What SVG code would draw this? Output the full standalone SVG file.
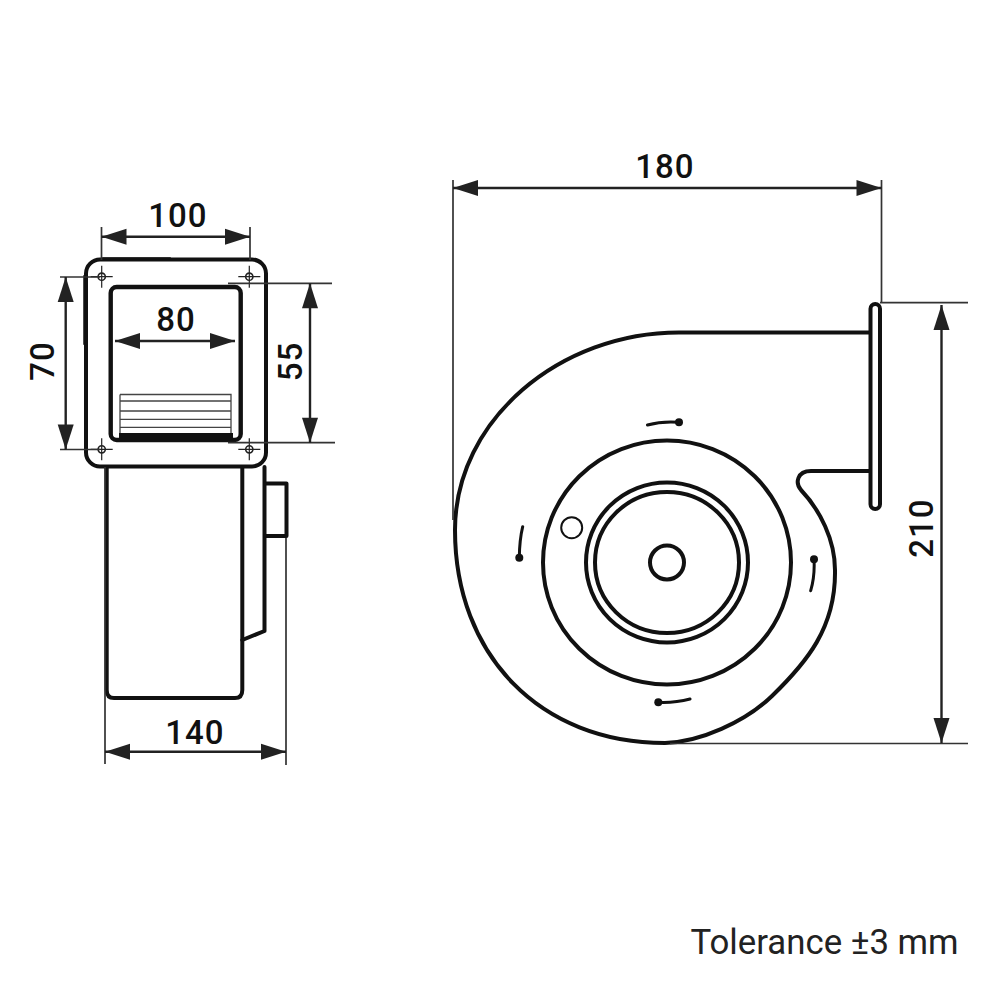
<svg xmlns="http://www.w3.org/2000/svg" width="1000" height="1000" viewBox="0 0 1000 1000">
<style>
.o{fill:none;stroke:#111;stroke-width:4;stroke-linecap:round;stroke-linejoin:round}
.g{fill:none;stroke:#444;stroke-width:1.3}
.d{fill:none;stroke:#222;stroke-width:2.4;marker-start:url(#a);marker-end:url(#a)}
.e{fill:none;stroke:#333;stroke-width:1.7}
.k{fill:#111}
text{font-family:Roboto,"Liberation Sans",sans-serif;font-size:33px;font-weight:500;letter-spacing:1px;fill:#111;text-anchor:middle}
</style>
<defs>
<marker id="a" markerUnits="userSpaceOnUse" markerWidth="28" markerHeight="18" refX="25" refY="9" orient="auto-start-reverse" overflow="visible"><path d="M0 1 L25 9 L0 17Z" fill="#222"/></marker>
<g id="hole"><circle r="3.6" fill="none" stroke="#222" stroke-width="1.6"/><path d="M-11 0H11M0-11V11" stroke="#222" stroke-width="1.2"/></g>
</defs>
<rect width="1000" height="1000" fill="#fff"/>
<g id="front-view">
<g id="body">
<path class="o" d="M106.7 467V690Q106.7 698 114 698H235Q242.3 698 242.3 690V467"/>
<path class="o" d="M264.5 467V631L242.3 640"/>
<path class="o" d="M265.5 483.5H286.5V536H265.5"/>
</g>
<g id="flange">
<rect class="o" x="86" y="259.5" width="180" height="207" rx="14" style="fill:#fff"/>
<path class="o" d="M103 258.5H170M84.5 276V344" style="stroke-width:2.5"/>
<rect class="o" x="110.7" y="287" width="130" height="153" rx="6" style="stroke-width:4.4"/>
<path class="g" d="M120 394.5H231V433M120 394.5V433M120 401H231M120 411H231M120 419.3H231M120 427.3H231"/>
<rect class="k" x="119" y="433" width="114" height="7"/>
<use href="#hole" x="101.7" y="276.7"/>
<use href="#hole" x="249.3" y="276.7"/>
<use href="#hole" x="101.7" y="449.3"/>
<use href="#hole" x="249.3" y="449.3"/>
</g>
</g>
<g id="side-view">
<path class="o" d="M869 332.5H680C560 332 455 420 455 530C455 655 540 743 665 743C700 742 745 722 772 696C806 663 836 628 835 570C835 540 820 510 801 490C795 483 797 471 811 471H869"/>
<rect class="o" x="870.5" y="304" width="9.5" height="205" rx="4.7" style="fill:#fff"/>
<ellipse class="o" cx="667" cy="562.5" rx="124" ry="122"/>
<ellipse class="o" cx="667" cy="562.5" rx="81" ry="80"/>
<ellipse class="o" cx="667" cy="562.5" rx="72" ry="70.5"/>
<circle class="o" cx="667" cy="562.5" r="17"/>
<circle class="o" cx="571.7" cy="527.7" r="10.5" style="stroke-width:2"/>
<path class="o" d="M647.5 425Q662 421 679 422.3M522.7 526.7Q519.5 540 519.3 557.7M814 559.3Q815 576 810.7 590.7M658.3 702.3Q675 703 690 699" style="stroke-width:3"/>
<circle class="k" cx="679" cy="422.3" r="4"/>
<circle class="k" cx="519.3" cy="557.7" r="4"/>
<circle class="k" cx="814" cy="559.3" r="4"/>
<circle class="k" cx="658.3" cy="702.3" r="4"/>
</g>
<g id="connectors">
<path class="e" d="M101.5 227V260M250 227V260M60 277H100M60 449.5H100M228 283.3H332M228 442.7H335M105 467V764M286 538V765M453 180V520M881.5 180V303M880 302.7H968M670 743.5H968"/>
<path class="d" d="M101.5 236.7H250"/>
<path class="d" d="M115 341H235"/>
<path class="d" d="M65.7 277V449.5"/>
<path class="d" d="M310 283.3V442.7"/>
<path class="d" d="M105 751.7H286"/>
<path class="d" d="M453 188H881.5"/>
<path class="d" d="M941.5 305V743"/>
</g>
<g id="labels">
<text x="178" y="227">100</text>
<text x="176" y="331">80</text>
<text transform="translate(54 361) rotate(-90)">70</text>
<text transform="translate(301.5 361.5) rotate(-90)">55</text>
<text x="195" y="744">140</text>
<text x="665" y="178">180</text>
<text transform="translate(933 528) rotate(-90)">210</text>
<text x="824.5" y="954" style="font-size:34.8px;font-weight:400;letter-spacing:0;fill:#222">Tolerance ±3 mm</text>
</g>
</svg>
